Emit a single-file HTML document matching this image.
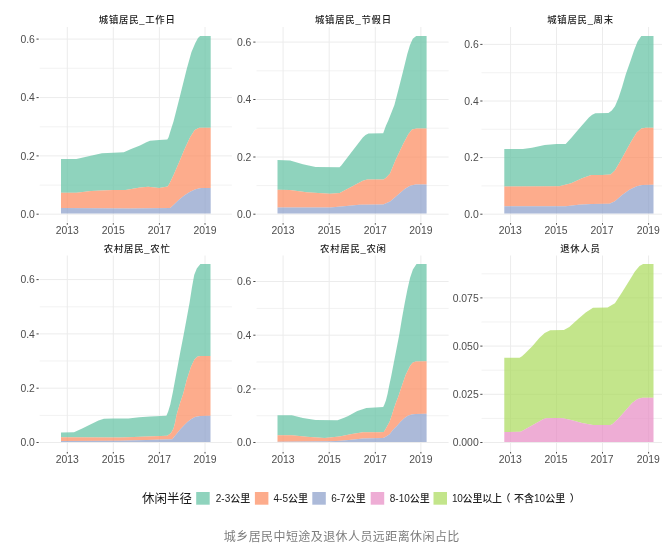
<!DOCTYPE html>
<html lang="zh-CN"><head><meta charset="utf-8"><title>城乡居民中短途及退休人员远距离休闲占比</title>
<style>html,body{margin:0;padding:0;background:#fff}body{width:662px;height:549px;overflow:hidden}svg{display:block}text{font-family:"Liberation Sans", "Noto Sans CJK SC", sans-serif}.ax{font-size:10.4px;fill:#4d4d4d}.ti{font-size:9.4px;letter-spacing:0.75px;font-weight:500;fill:#1a1a1a}.lg{font-size:10px;fill:#222;font-weight:500}.lt{font-size:12.5px;fill:#1a1a1a}.cap{font-size:12px;letter-spacing:0.42px;fill:#7d7d7d}</style></head><body>
<svg width="662" height="549" viewBox="0 0 662 549">
<rect width="662" height="549" fill="#fff"/>
<g>
<path d="M39.7 185.1H231.9M39.7 126.8H231.9M39.7 68.3H231.9" stroke="#ececec" stroke-width="0.7" fill="none"/>
<path d="M39.7 214.2H231.9M39.7 155.9H231.9M39.7 97.6H231.9M39.7 39.1H231.9M67.3 27V222.5M113.3 27V222.5M159.4 27V222.5M205 27V222.5" stroke="#ececec" stroke-width="1" fill="none"/>
<path d="M36.5 214.2H38.7M36.5 155.9H38.7M36.5 97.6H38.7M36.5 39.1H38.7M67.3 223.1V224.7M113.3 223.1V224.7M159.4 223.1V224.7M205 223.1V224.7" stroke="#333" stroke-width="0.9" fill="none"/>
<path d="M61 159.1L76.4 159.1L87.4 156.4L101.9 153.3L113.2 152.8L123.8 152.2L131.1 149.1L140 145.5L146.4 142.3L150 140.8L159.1 140L167.3 139.4L168.6 137.3L171 129.3L173.5 121.5L179.5 97.9L186.8 68.7L191.4 52.3L195.2 43.2L198 38L200.1 35.9L210.7 35.9L210.7 127.7L199.2 127.7L194.7 130L190.1 137.3L184.6 149.1L179.2 161.9L173.7 174.8L169.5 183.4L167.6 186.4L159.1 188L148.2 186.8L140 187.4L125.6 190.1L112.9 190.1L91 191L76.4 192.8L61 192.8Z" fill="#66C2A5" fill-opacity="0.73"/>
<path d="M61 192.8L76.4 192.8L91 191L112.9 190.1L125.6 190.1L140 187.4L148.2 186.8L159.1 188L167.6 186.4L169.5 183.4L173.7 174.8L179.2 161.9L184.6 149.1L190.1 137.3L194.7 130L199.2 127.7L210.7 127.7L210.7 187.9L201 187.9L195.6 189.2L190.1 191.8L184.6 195.3L179.2 199.5L174 204.6L170.2 208L130 208.4L61 208Z" fill="#FC8D62" fill-opacity="0.73"/>
<path d="M61 208L130 208.4L170.2 208L174 204.6L179.2 199.5L184.6 195.3L190.1 191.8L195.6 189.2L201 187.9L210.7 187.9L210.7 213.6L61 213.6Z" fill="#8DA0CB" fill-opacity="0.73"/>
<text class="ax" x="34.9" y="217.9" text-anchor="end">0.0</text>
<text class="ax" x="34.9" y="159.6" text-anchor="end">0.2</text>
<text class="ax" x="34.9" y="101.3" text-anchor="end">0.4</text>
<text class="ax" x="34.9" y="42.8" text-anchor="end">0.6</text>
<text class="ax" x="67.3" y="233.7" text-anchor="middle">2013</text>
<text class="ax" x="113.3" y="233.7" text-anchor="middle">2015</text>
<text class="ax" x="159.4" y="233.7" text-anchor="middle">2017</text>
<text class="ax" x="205" y="233.7" text-anchor="middle">2019</text>
<text class="ti" x="137.2" y="23.3" text-anchor="middle">城镇居民_工作日</text>
</g>
<g>
<path d="M256.5 185.6H448.6M256.5 128.2H448.6M256.5 70.8H448.6" stroke="#ececec" stroke-width="0.7" fill="none"/>
<path d="M256.5 214.2H448.6M256.5 157H448.6M256.5 99.5H448.6M256.5 42.1H448.6M283.1 27V222.5M329.2 27V222.5M375.3 27V222.5M420.9 27V222.5" stroke="#ececec" stroke-width="1" fill="none"/>
<path d="M253.3 214.2H255.5M253.3 157H255.5M253.3 99.5H255.5M253.3 42.1H255.5M283.1 223.1V224.7M329.2 223.1V224.7M375.3 223.1V224.7M420.9 223.1V224.7" stroke="#333" stroke-width="0.9" fill="none"/>
<path d="M277.5 160.1L290.1 160.4L302.9 164.2L315.6 167L339.5 167.3L341.3 165.4L352 151.6L362.8 137.6L365.5 135L368.5 133.6L383.2 133.2L386 125.5L388.3 120.5L394.4 105.1L399.1 86.9L403.7 68.7L407.3 54.1L410 45L412.8 38.7L416.2 35.9L426.6 35.9L426.6 128.4L416.5 128.4L412 129.6L408.3 134.3L402.9 144.4L395.6 159.9L390 173.6L386 177.8L383.6 179.4L367.2 179.6L362.8 180.8L352 186.5L341.5 192L339.8 193L330 193.7L306.5 192.3L290.1 190.1L277.5 189.7Z" fill="#66C2A5" fill-opacity="0.73"/>
<path d="M277.5 189.7L290.1 190.1L306.5 192.3L330 193.7L339.8 193L341.5 192L352 186.5L362.8 180.8L367.2 179.6L383.6 179.4L386 177.8L390 173.6L395.6 159.9L402.9 144.4L408.3 134.3L412 129.6L416.5 128.4L426.6 128.4L426.6 184.4L415.6 184.5L410.1 185.7L404.7 188.9L397.4 195.3L390.1 201.6L383.2 204.4L359.1 204.7L346.4 206L330 207.4L277.5 207.4Z" fill="#FC8D62" fill-opacity="0.73"/>
<path d="M277.5 207.4L330 207.4L346.4 206L359.1 204.7L383.2 204.4L390.1 201.6L397.4 195.3L404.7 188.9L410.1 185.7L415.6 184.5L426.6 184.4L426.6 213.6L277.5 213.6Z" fill="#8DA0CB" fill-opacity="0.73"/>
<text class="ax" x="251.4" y="217.9" text-anchor="end">0.0</text>
<text class="ax" x="251.4" y="160.7" text-anchor="end">0.2</text>
<text class="ax" x="251.4" y="103.2" text-anchor="end">0.4</text>
<text class="ax" x="251.4" y="45.8" text-anchor="end">0.6</text>
<text class="ax" x="283.1" y="233.7" text-anchor="middle">2013</text>
<text class="ax" x="329.2" y="233.7" text-anchor="middle">2015</text>
<text class="ax" x="375.3" y="233.7" text-anchor="middle">2017</text>
<text class="ax" x="420.9" y="233.7" text-anchor="middle">2019</text>
<text class="ti" x="353.4" y="23.3" text-anchor="middle">城镇居民_节假日</text>
</g>
<g>
<path d="M481.5 185.9H662M481.5 129.3H662M481.5 72.7H662" stroke="#ececec" stroke-width="0.7" fill="none"/>
<path d="M483.5 214.2H662M483.5 157.6H662M483.5 101H662M483.5 44.4H662M510.6 27V222.5M556.5 27V222.5M602.5 27V222.5M648.6 27V222.5" stroke="#ececec" stroke-width="1" fill="none"/>
<path d="M480.3 214.2H482.5M480.3 157.6H482.5M480.3 101H482.5M480.3 44.4H482.5M510.6 223.1V224.7M556.5 223.1V224.7M602.5 223.1V224.7M648.6 223.1V224.7" stroke="#333" stroke-width="0.9" fill="none"/>
<path d="M504.3 149.1L522.9 149.1L532 147.7L544.7 145L556.6 144L565.7 144L571.4 137.7L576.9 131.3L582.3 125.1L588.9 117.6L592.2 114.8L595.4 113.3L608.4 113.1L611.8 110.4L615 106.2L618.5 97.9L622.1 86.9L625.8 74.2L630.3 61.4L634 50.5L637.6 41.4L641.3 35.9L653.5 35.9L653.5 127.7L645.8 127.7L641.3 128.5L636.7 132.4L631.3 141.2L625.8 151.2L620.3 161.3L614.9 170.5L610.6 174.4L602.1 174.9L591.2 175L582.1 178.3L571.1 183.2L559.3 186.3L504.3 186.6Z" fill="#66C2A5" fill-opacity="0.73"/>
<path d="M504.3 186.6L559.3 186.3L571.1 183.2L582.1 178.3L591.2 175L602.1 174.9L610.6 174.4L614.9 170.5L620.3 161.3L625.8 151.2L631.3 141.2L636.7 132.4L641.3 128.5L645.8 127.7L653.5 127.7L653.5 184.8L642.2 185L636.7 186.3L629.4 189.8L622.1 195L614.9 201.3L609.4 203.8L591.2 203.9L578.4 204.8L565.7 206.2L504.3 206.2Z" fill="#FC8D62" fill-opacity="0.73"/>
<path d="M504.3 206.2L565.7 206.2L578.4 204.8L591.2 203.9L609.4 203.8L614.9 201.3L622.1 195L629.4 189.8L636.7 186.3L642.2 185L653.5 184.8L653.5 213.6L504.3 213.6Z" fill="#8DA0CB" fill-opacity="0.73"/>
<text class="ax" x="478.7" y="217.9" text-anchor="end">0.0</text>
<text class="ax" x="478.7" y="161.3" text-anchor="end">0.2</text>
<text class="ax" x="478.7" y="104.7" text-anchor="end">0.4</text>
<text class="ax" x="478.7" y="48.1" text-anchor="end">0.6</text>
<text class="ax" x="510.2" y="233.7" text-anchor="middle">2013</text>
<text class="ax" x="556.1" y="233.7" text-anchor="middle">2015</text>
<text class="ax" x="602.1" y="233.7" text-anchor="middle">2017</text>
<text class="ax" x="648.2" y="233.7" text-anchor="middle">2019</text>
<text class="ti" x="580.5" y="23.3" text-anchor="middle">城镇居民_周末</text>
</g>
<g>
<path d="M39.7 415.4H231.9M39.7 361H231.9M39.7 306.8H231.9" stroke="#ececec" stroke-width="0.7" fill="none"/>
<path d="M39.7 442.5H231.9M39.7 388.2H231.9M39.7 333.9H231.9M39.7 279.6H231.9M67.3 255.5V451.3M113.3 255.5V451.3M159.4 255.5V451.3M205 255.5V451.3" stroke="#ececec" stroke-width="1" fill="none"/>
<path d="M36.5 442.5H38.7M36.5 388.2H38.7M36.5 333.9H38.7M36.5 279.6H38.7M67.3 451.9V453.5M113.3 451.9V453.5M159.4 451.9V453.5M205 451.9V453.5" stroke="#333" stroke-width="0.9" fill="none"/>
<path d="M61 432.4L74 432.3L82.2 428.6L91.3 424L98.5 420.4L103.9 418.8L113 418.5L128.4 418.6L139.3 417.3L150 416.6L166.4 415.7L168.2 411.6L170.3 404.6L172.9 391.9L175.6 377.3L178.3 362.8L180.3 352L183.6 335.1L186.8 317.8L189.6 302.4L191.9 287.8L194.2 275L196.8 268.6L200.4 264.1L210.5 264.1L210.5 356L200.5 356L197.6 356.4L194.4 359.4L191 366.8L186.7 380L183.4 393L179.5 404.8L176.4 415.4L175.3 421.8L173.5 428.4L171 433.1L167.3 435.7L147.3 436.6L120 437.6L61 437.3Z" fill="#66C2A5" fill-opacity="0.73"/>
<path d="M61 437.3L120 437.6L147.3 436.6L167.3 435.7L171 433.1L173.5 428.4L175.3 421.8L176.4 415.4L179.5 404.8L183.4 393L186.7 380L191 366.8L194.4 359.4L197.6 356.4L200.5 356L210.5 356L210.5 415.7L200 415.9L195 417.1L191.4 418.9L187.7 421.8L183.4 426.1L179.7 429.9L176.1 434.4L172.2 439.3L120 440.7L61 441Z" fill="#FC8D62" fill-opacity="0.73"/>
<path d="M61 441L120 440.7L172.2 439.3L176.1 434.4L179.7 429.9L183.4 426.1L187.7 421.8L191.4 418.9L195 417.1L200 415.9L210.5 415.7L210.5 441.9L61 441.9Z" fill="#8DA0CB" fill-opacity="0.73"/>
<text class="ax" x="34.9" y="446.2" text-anchor="end">0.0</text>
<text class="ax" x="34.9" y="391.9" text-anchor="end">0.2</text>
<text class="ax" x="34.9" y="337.6" text-anchor="end">0.4</text>
<text class="ax" x="34.9" y="283.3" text-anchor="end">0.6</text>
<text class="ax" x="67.3" y="462.5" text-anchor="middle">2013</text>
<text class="ax" x="113.3" y="462.5" text-anchor="middle">2015</text>
<text class="ax" x="159.4" y="462.5" text-anchor="middle">2017</text>
<text class="ax" x="205" y="462.5" text-anchor="middle">2019</text>
<text class="ti" x="137.2" y="251.8" text-anchor="middle">农村居民_农忙</text>
</g>
<g>
<path d="M256.5 415.7H448.6M256.5 362H448.6M256.5 308.4H448.6" stroke="#ececec" stroke-width="0.7" fill="none"/>
<path d="M256.5 442.5H448.6M256.5 388.9H448.6M256.5 335.2H448.6M256.5 281.5H448.6M283.1 255.5V451.3M329.2 255.5V451.3M375.3 255.5V451.3M420.9 255.5V451.3" stroke="#ececec" stroke-width="1" fill="none"/>
<path d="M253.3 442.5H255.5M253.3 388.9H255.5M253.3 335.2H255.5M253.3 281.5H255.5M283.1 451.9V453.5M329.2 451.9V453.5M375.3 451.9V453.5M420.9 451.9V453.5" stroke="#333" stroke-width="0.9" fill="none"/>
<path d="M277.5 415.2L291.9 415.2L302.9 417.9L315.6 420.1L337.5 420.3L344.8 417.5L348.2 415.9L357.3 411L366.4 407.9L383.2 407.1L384.5 404.2L385.9 400.6L387.6 393.7L389.2 385.5L391 377.3L393.8 362.8L395.9 352L399.2 335.1L401.9 318.8L404.7 303.3L407.4 289.6L410.1 277.8L412.9 269.6L416.5 264.1L426.6 264.1L426.6 361.3L415.6 361.5L412.5 362.8L410 366L405.6 375L401.2 387.8L398.5 396L395.8 403L394 408.3L391.8 415.2L389.6 421.8L385.9 428.6L383.8 432L379.2 432.2L362.8 432.2L351.9 434L339.3 436.6L324.7 437.9L306.5 436.8L291.9 435.2L277.5 435.2Z" fill="#66C2A5" fill-opacity="0.73"/>
<path d="M277.5 435.2L291.9 435.2L306.5 436.8L324.7 437.9L339.3 436.6L351.9 434L362.8 432.2L379.2 432.2L383.8 432L385.9 428.6L389.6 421.8L391.8 415.2L394 408.3L395.8 403L398.5 396L401.2 387.8L405.6 375L410 366L412.5 362.8L415.6 361.5L426.6 361.3L426.6 413.8L415 414L411.5 414.6L407.8 415.8L404.2 418.3L400.5 421.8L396.9 426L393.2 429.6L389.6 434.2L384.5 437.5L382.5 438L362.8 438.4L353.7 439.6L340.9 440.7L330 441.2L277.5 441.8Z" fill="#FC8D62" fill-opacity="0.73"/>
<path d="M277.5 441.8L330 441.2L340.9 440.7L353.7 439.6L362.8 438.4L382.5 438L384.5 437.5L389.6 434.2L393.2 429.6L396.9 426L400.5 421.8L404.2 418.3L407.8 415.8L411.5 414.6L415 414L426.6 413.8L426.6 441.9L277.5 441.9Z" fill="#8DA0CB" fill-opacity="0.73"/>
<text class="ax" x="251.4" y="446.2" text-anchor="end">0.0</text>
<text class="ax" x="251.4" y="392.6" text-anchor="end">0.2</text>
<text class="ax" x="251.4" y="338.9" text-anchor="end">0.4</text>
<text class="ax" x="251.4" y="285.2" text-anchor="end">0.6</text>
<text class="ax" x="283.1" y="462.5" text-anchor="middle">2013</text>
<text class="ax" x="329.2" y="462.5" text-anchor="middle">2015</text>
<text class="ax" x="375.3" y="462.5" text-anchor="middle">2017</text>
<text class="ax" x="420.9" y="462.5" text-anchor="middle">2019</text>
<text class="ti" x="353.4" y="251.8" text-anchor="middle">农村居民_农闲</text>
</g>
<g>
<path d="M481.5 418.4H662M481.5 370.2H662M481.5 322H662M481.5 273.8H662" stroke="#ececec" stroke-width="0.7" fill="none"/>
<path d="M483.5 442.5H662M483.5 394.3H662M483.5 346.1H662M483.5 297.9H662M510.6 255.5V451.3M556.5 255.5V451.3M602.5 255.5V451.3M648.6 255.5V451.3" stroke="#ececec" stroke-width="1" fill="none"/>
<path d="M480.3 442.5H482.5M480.3 394.3H482.5M480.3 346.1H482.5M480.3 297.9H482.5M510.6 451.9V453.5M556.5 451.9V453.5M602.5 451.9V453.5M648.6 451.9V453.5" stroke="#333" stroke-width="0.9" fill="none"/>
<path d="M504.3 357.7L519.6 357.7L522 356.2L525 353.5L529 349.6L532.5 346L539.3 338.1L544.7 333L550.2 330.3L563.9 330L569.3 327L578.4 318.8L585.7 312.4L593 307.8L607.6 307.5L614.9 303.3L622.1 292.3L629.4 280.5L634.9 271.4L639.5 265.9L643.1 264.1L653.5 264.1L653.5 397.7L642.1 397.8L637.5 399L632.1 402.9L626.6 409.2L621.1 415.6L617.6 419.3L612.5 424L610.6 425L593 425L582.1 422.9L571.1 420.1L562.9 418.2L555.6 417.9L546 418.2L543.5 419.1L522.5 430.8L520.3 431.7L504.3 432Z" fill="#A6D854" fill-opacity="0.68"/>
<path d="M504.3 432L520.3 431.7L522.5 430.8L543.5 419.1L546 418.2L555.6 417.9L562.9 418.2L571.1 420.1L582.1 422.9L593 425L610.6 425L612.5 424L617.6 419.3L621.1 415.6L626.6 409.2L632.1 402.9L637.5 399L642.1 397.8L653.5 397.7L653.5 441.9L504.3 441.9Z" fill="#E78AC3" fill-opacity="0.7"/>
<text class="ax" x="478.7" y="446.2" text-anchor="end">0.000</text>
<text class="ax" x="478.7" y="398" text-anchor="end">0.025</text>
<text class="ax" x="478.7" y="349.8" text-anchor="end">0.050</text>
<text class="ax" x="478.7" y="301.6" text-anchor="end">0.075</text>
<text class="ax" x="510.2" y="462.5" text-anchor="middle">2013</text>
<text class="ax" x="556.1" y="462.5" text-anchor="middle">2015</text>
<text class="ax" x="602.1" y="462.5" text-anchor="middle">2017</text>
<text class="ax" x="648.2" y="462.5" text-anchor="middle">2019</text>
<text class="ti" x="580.5" y="251.8" text-anchor="middle">退休人员</text>
</g>
<g>
<text class="lt" x="141.9" y="502.6">休闲半径</text>
<rect x="196.2" y="492" width="13.5" height="12.7" fill="#66C2A5" fill-opacity="0.73"/>
<text class="lg" x="215.8" y="501.9">2-3公里</text>
<rect x="254.9" y="492" width="13.5" height="12.7" fill="#FC8D62" fill-opacity="0.73"/>
<text class="lg" x="273.5" y="501.9">4-5公里</text>
<rect x="312.3" y="492" width="13.5" height="12.7" fill="#8DA0CB" fill-opacity="0.73"/>
<text class="lg" x="331.2" y="501.9">6-7公里</text>
<rect x="370.7" y="492" width="13.5" height="12.7" fill="#E78AC3" fill-opacity="0.7"/>
<text class="lg" x="389.8" y="501.9">8-10公里</text>
<rect x="433.5" y="492" width="13.5" height="12.7" fill="#A6D854" fill-opacity="0.68"/>
<text class="lg" x="451.9" y="501.9"><tspan style="letter-spacing:-0.2px">10公里以上</tspan><tspan dx="-1.4">（</tspan><tspan dx="3.6">不含10公里</tspan><tspan dx="4.6">）</tspan></text>
</g>
<text class="cap" x="341.8" y="540.7" text-anchor="middle">城乡居民中短途及退休人员远距离休闲占比</text>
</svg></body></html>
